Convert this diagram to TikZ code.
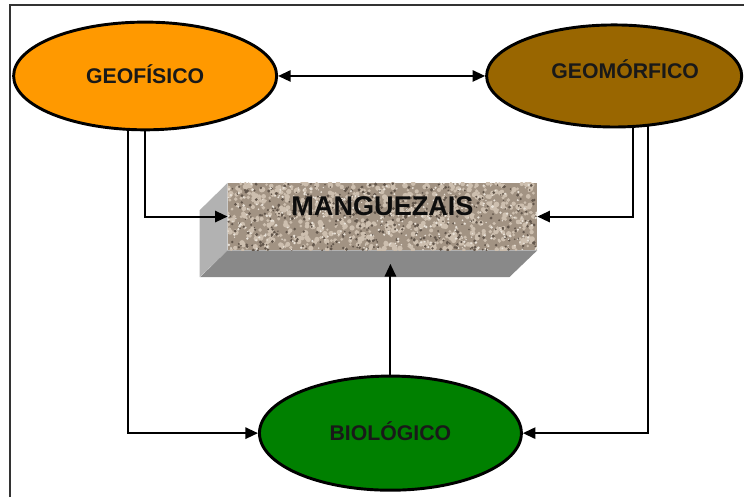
\documentclass[tikz,border=0pt]{standalone}
\usepackage{fontspec}
\setmainfont{Liberation Sans}
\usepackage{xcolor}
\usetikzlibrary{arrows.meta,shapes.geometric,calc,backgrounds}

\definecolor{geofcol}{HTML}{FF9900}
\definecolor{geomcol}{HTML}{996600}
\definecolor{biocol}{HTML}{008000}
\definecolor{sidecol}{HTML}{B2B2B2}
\definecolor{basecol}{HTML}{898989}
\definecolor{granite}{HTML}{A29383}
\definecolor{grainlight}{HTML}{CDBFAF}
\definecolor{graindark}{HTML}{62564B}
\definecolor{grainwhite}{HTML}{E9E2D8}

\begin{document}
\begin{tikzpicture}[
  sphere/.style={ellipse, draw=black, line width=2.2pt, inner sep=0pt, font=\bfseries\fontsize{16}{19}\selectfont, text=black!90, text height=11.5pt, text depth=0pt},
  block/.style={rectangle, inner sep=0pt, minimum width=8.18cm, minimum height=1.77cm, font=\bfseries\fontsize{20.4}{24}\selectfont, text=black!95, text height=14.6pt, text depth=0.56cm},
  link/.style={line width=1.5pt, black},
  >={Triangle[length=9.5pt,width=8.5pt]}
]
  \pgfmathsetseed{42}
  \useasboundingbox (0,0) rectangle (19.685,13.15);

  % Frame
  \draw[line width=0.8pt, black!80] (0.265,0) -- (0.265,13.018) -- (19.685,13.018);

  % Top row: the two physical factors
  \node[sphere, fill=geofcol, minimum width=6.96cm, minimum height=2.85cm] (geof) at (3.84,11.14) {GEOFÍSICO};
  \node[sphere, fill=geomcol, minimum width=6.75cm, minimum height=2.70cm, text depth=0.26cm] (geom) at (16.25,11.14) {\hspace*{0.58cm}GEOMÓRFICO};

  % Bottom: biological factor
  \node[sphere, fill=biocol, minimum width=6.93cm, minimum height=3.02cm] (bio) at (10.33,1.69) {BIOLÓGICO};

  % Center: the block
  \node[block] (mang) at (10.12,7.42) {MANGUEZAIS};
  \coordinate (base) at ($(mang.south)+(-0.37,-0.36)$);

  \begin{scope}[on background layer]
    % Block sides
    \fill[sidecol] (mang.north west) -- (mang.south west) -- ++(-0.74,-0.71) -- ++(0,1.77) -- cycle;
    \fill[basecol] (mang.south west) -- (mang.south east) -- ++(-0.74,-0.71) -- ++(-8.18,0) -- cycle;

    % Block face: granite grains
    \fill[granite] (mang.south west) rectangle (mang.north east);
    \begin{scope}
      \clip (mang.south west) rectangle (mang.north east);
      \foreach \i in {1,...,700}
        \fill[grainlight] ($(mang.south west)+(8.18*rnd,1.77*rnd)$) circle ({0.035+0.04*rnd});
      \foreach \i in {1,...,450}
        \fill[graindark] ($(mang.south west)+(8.18*rnd,1.77*rnd)$) circle ({0.02+0.025*rnd});
      \foreach \i in {1,...,350}
        \fill[grainwhite] ($(mang.south west)+(8.18*rnd,1.77*rnd)$) circle ({0.018+0.02*rnd});
    \end{scope}

    % Connections
    \draw[link,<->] (geof) -- (geom);
    \draw[link,->] (geof.center) |- (mang.west);
    \draw[link,->] ([xshift=-0.45cm]geof.center) |- (bio.west);
    \draw[link,->] ([xshift=0.5cm]geom.center) |- (mang.east);
    \draw[link,->] ([xshift=0.9cm]geom.center) |- (bio.east);
    \draw[link,->] (bio.north) -- (bio.north |- base);
  \end{scope}
\end{tikzpicture}
\end{document}
